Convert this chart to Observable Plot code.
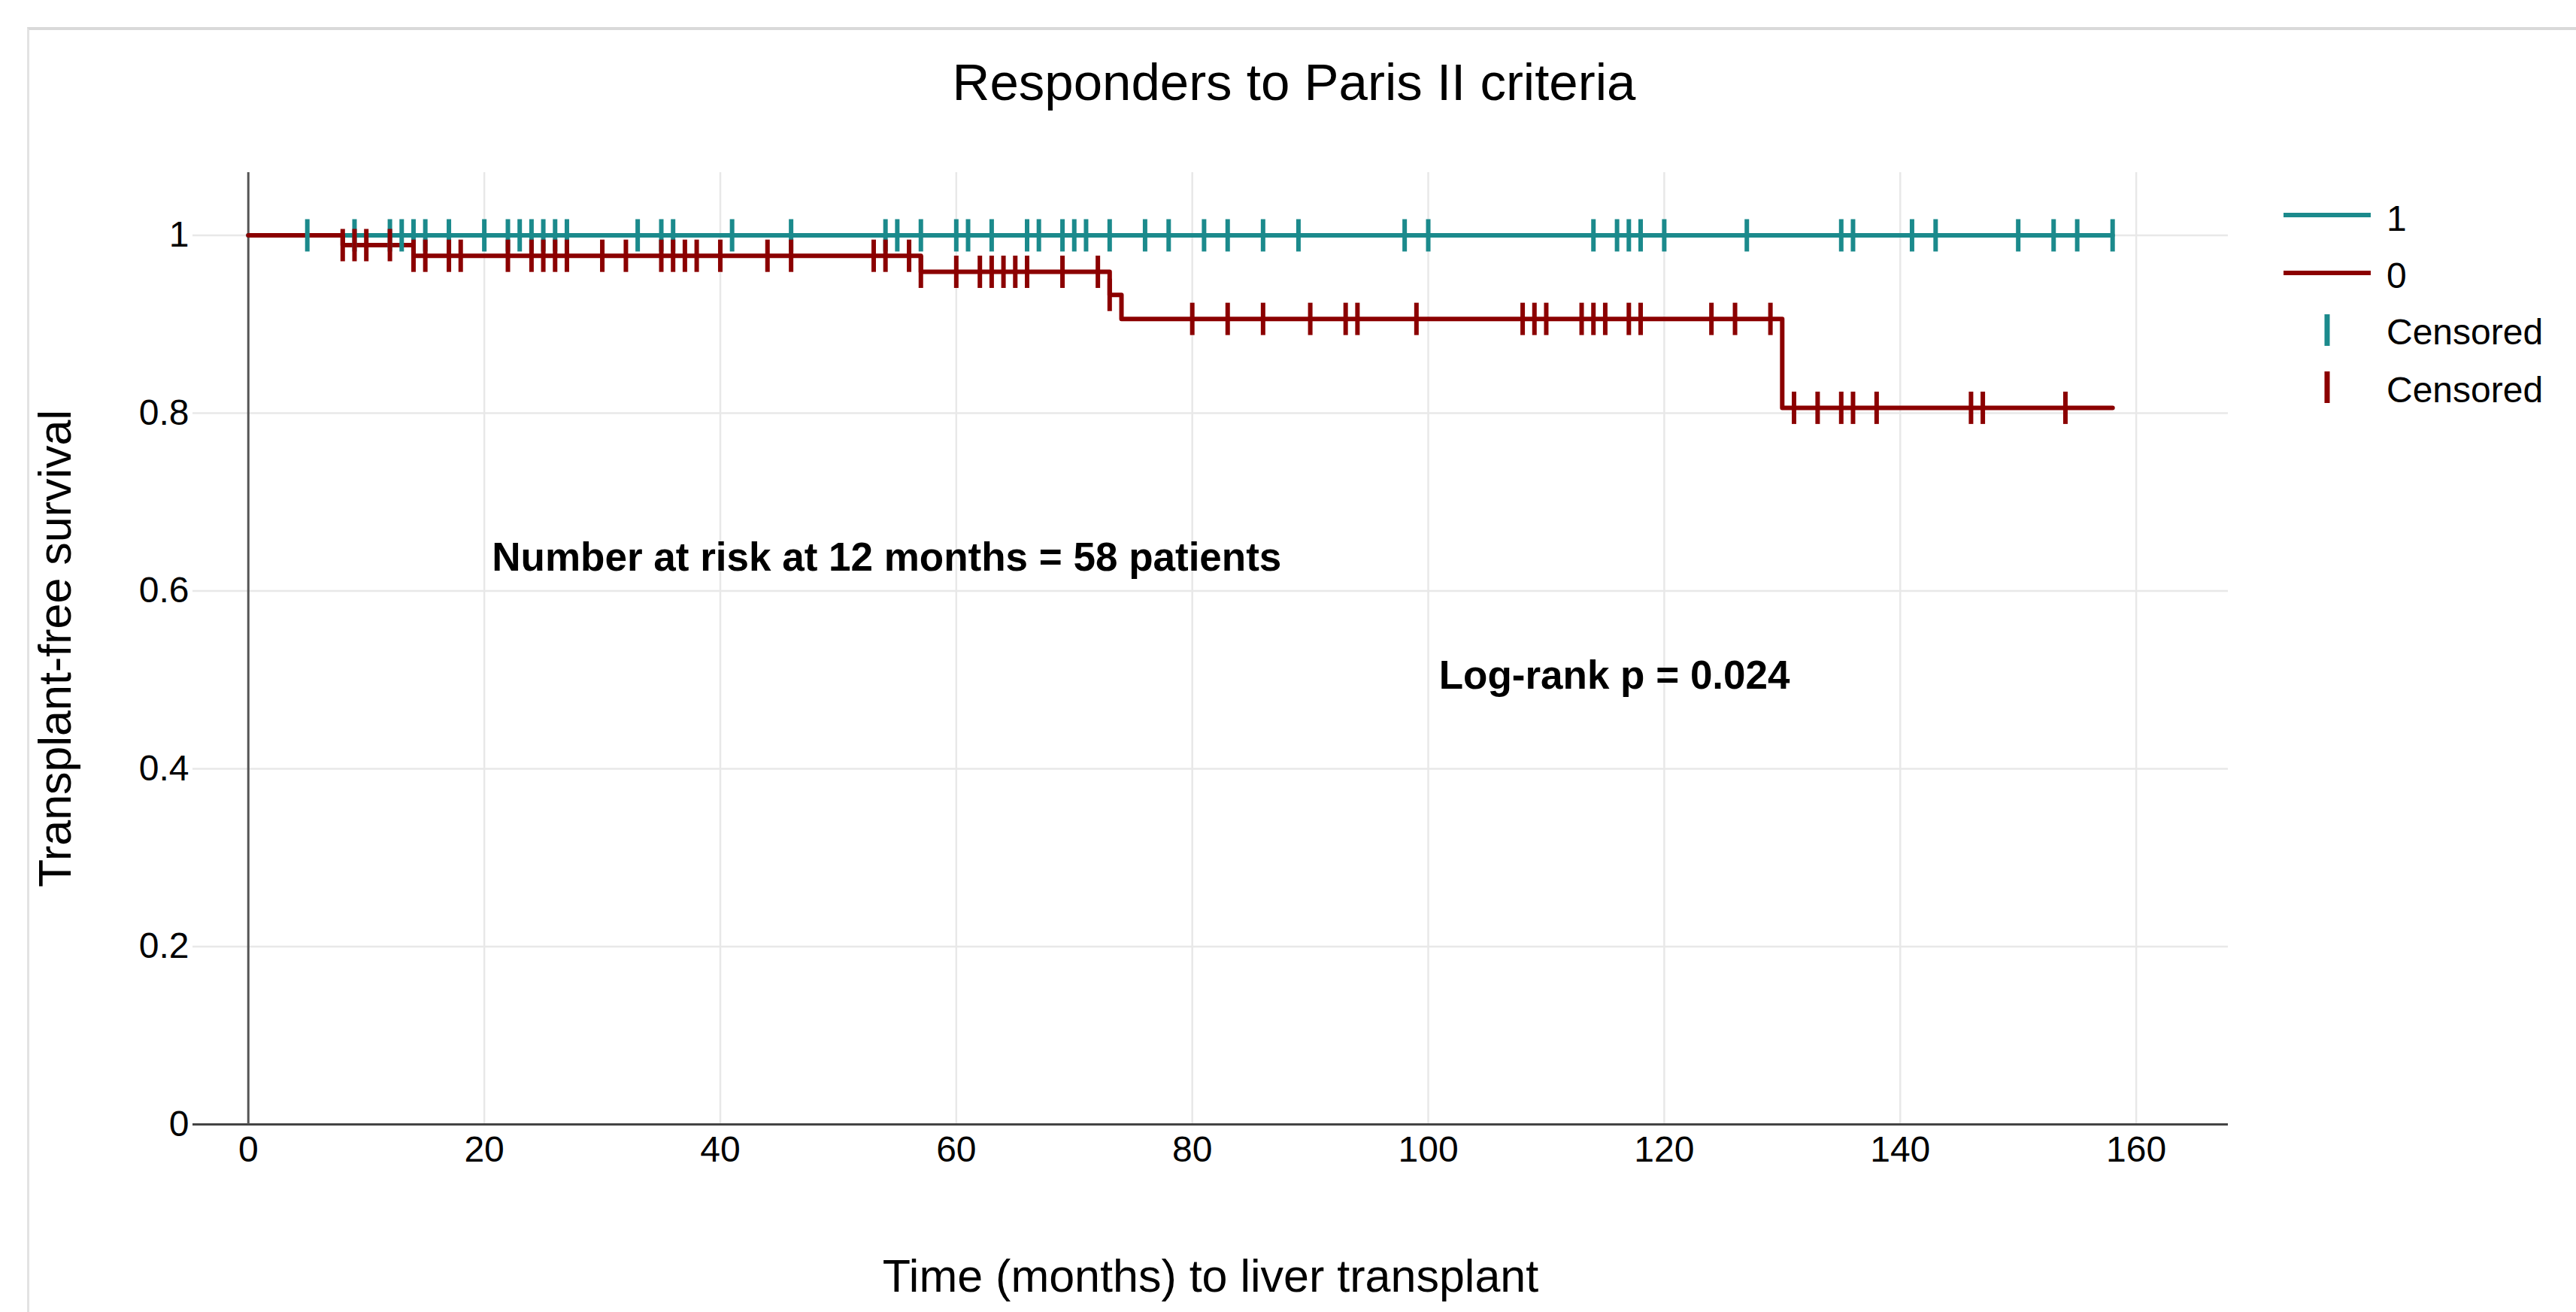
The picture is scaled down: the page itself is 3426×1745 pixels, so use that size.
<!DOCTYPE html>
<html>
<head>
<meta charset="utf-8">
<script src="https://cdn.jsdelivr.net/npm/d3@7"></script>
<script src="https://cdn.jsdelivr.net/npm/@observablehq/plot@0.6"></script>
<style>
  html, body { margin: 0; padding: 0; background: #ffffff; }
  #wrap { position: relative; width: 3426px; height: 1745px; overflow: hidden;
          font-family: "Liberation Sans", Arial, Helvetica, sans-serif; background: #fff; }
  #frame { position: absolute; left: 36px; top: 36px; right: -10px; bottom: -10px;
           border-top: 4px solid #d9d9d9; border-left: 3px solid #e3e3e3; }
  #chart, #overlay { position: absolute; left: 0; top: 0; }
</style>
</head>
<body>
<div id="wrap"><div id="frame"></div><div id="chart"></div></div>
<script>
// ---------------- data ----------------
const chartTitle = "Responders to Paris II criteria";
const xAxisTitle = "Time (months) to liver transplant";
const yAxisTitle = "Transplant-free survival";

const groupNames = ["1", "0"];
const censoredLabel = "Censored";

// group "1" (responders): no events, survival stays at 1
const eventTimes1 = [];
const survival1 = [];
const censorTimes1 = [5, 9, 12, 13, 14, 15, 17, 20, 22, 23, 24, 25, 26, 27, 33, 35, 36, 41,
  46, 54, 55, 57, 60, 61, 63, 66, 67, 69, 70, 71, 73, 76, 78, 81, 83, 86, 89, 98, 100,
  114, 116, 117, 118, 120, 127, 135, 136, 141, 143, 150, 153, 155, 158];
const lastTime1 = 158;

// group "0" (non-responders)
const eventTimes0 = [8, 14, 57, 73, 74, 130];
const survival0 = [0.989, 0.977, 0.959, 0.933, 0.906, 0.806];
const censorTimes0 = [8, 9, 10, 12, 14, 15, 17, 18, 22, 24, 25, 26, 27, 30, 32, 35, 36, 37,
  38, 40, 44, 46, 53, 54, 56, 57, 60, 62, 63, 64, 65, 66, 69, 72, 73, 80, 83, 86, 90, 93,
  94, 99, 108, 109, 110, 113, 114, 115, 117, 118, 124, 126, 129, 131, 133, 135, 136, 138,
  146, 147, 154];
const lastTime0 = 158;

const xTicks = [0, 20, 40, 60, 80, 100, 120, 140, 160];
const xTickLabels = ["0", "20", "40", "60", "80", "100", "120", "140", "160"];
const yTicks = [0, 0.2, 0.4, 0.6, 0.8, 1];
const yTickLabels = ["0", "0.2", "0.4", "0.6", "0.8", "1"];

const annotationTexts = ["Number at risk at 12 months = 58 patients", "Log-rank p = 0.024"];
const annotationX = [20.65, 100.9];
const annotationY = [0.623, 0.49];

// ---------------- styling ----------------
const TEAL = "#1b8a8c";
const RED = "#8b0000";
const FONT = "'Liberation Sans', Arial, Helvetica, sans-serif";
const W = 3426, H = 1745;

// ---------------- derived tables ----------------
function survAt(events, surv, t) {
  let s = 1;
  for (let i = 0; i < events.length; i++) if (events[i] <= t) s = surv[i];
  return s;
}
function curveRows(events, surv, last) {
  const rows = [{t: 0, s: 1}];
  events.forEach((t, i) => rows.push({t, s: surv[i]}));
  rows.push({t: last, s: survAt(events, surv, last)});
  return rows;
}
const curve1 = curveRows(eventTimes1, survival1, lastTime1);
const curve0 = curveRows(eventTimes0, survival0, lastTime0);
const cens1 = censorTimes1.map(t => ({t, s: survAt(eventTimes1, survival1, t)}));
const cens0 = censorTimes0.map(t => ({t, s: survAt(eventTimes0, survival0, t)}));
const annotations = annotationTexts.map((text, i) => ({text, x: annotationX[i], y: annotationY[i]}));

const tickSymbol = {
  draw(ctx) { ctx.moveTo(0, -21.5); ctx.lineTo(0, 21.5); }
};

const plot = Plot.plot({
  width: W,
  height: H,
  marginLeft: 256,
  marginRight: 463,
  marginTop: 229,
  marginBottom: 250,
  x: {domain: [-4.7, 167.8]},
  y: {domain: [0, 1.0706]},
  style: {fontFamily: FONT, background: "transparent", color: "#000"},
  marks: [
    Plot.gridX(xTicks.filter(d => d !== 0), {stroke: "#e8e8e8", strokeOpacity: 1, strokeWidth: 2.5}),
    Plot.gridY(yTicks.filter(d => d !== 0), {stroke: "#e8e8e8", strokeOpacity: 1, strokeWidth: 2.5}),
    Plot.ruleY([0], {stroke: "#444", strokeWidth: 3}),
    Plot.ruleX([0], {stroke: "#555", strokeWidth: 3}),
    Plot.axisX(xTicks, {tickSize: 0, tickPadding: 15, fontSize: 48, label: null,
      tickFormat: d => xTickLabels[xTicks.indexOf(d)]}),
    Plot.axisY(yTicks, {tickSize: 0, tickPadding: 5, fontSize: 48, label: null,
      tickFormat: d => yTickLabels[yTicks.indexOf(d)]}),
    Plot.line(curve1, {x: "t", y: "s", curve: "step-after", stroke: TEAL, strokeWidth: 6}),
    Plot.line(curve0, {x: "t", y: "s", curve: "step-after", stroke: RED, strokeWidth: 6}),
    Plot.dot(cens1, {x: "t", y: "s", symbol: tickSymbol, stroke: TEAL, fill: "none", strokeWidth: 6}),
    Plot.dot(cens0, {x: "t", y: "s", symbol: tickSymbol, stroke: RED, fill: "none", strokeWidth: 6}),
    Plot.text(annotations, {x: "x", y: "y", text: "text", textAnchor: "start", lineAnchor: "bottom",
      fontSize: 53, fontWeight: "bold", fill: "#000"}),
    Plot.text([xAxisTitle], {text: d => d, frameAnchor: "bottom", dy: 222, lineAnchor: "bottom",
      textAnchor: "middle", fontSize: 61, fill: "#000"}),
    Plot.text([yAxisTitle], {text: d => d, frameAnchor: "left", dx: -163, rotate: -90,
      textAnchor: "middle", lineAnchor: "bottom", fontSize: 61, fill: "#000"})
  ]
});
document.getElementById("chart").appendChild(plot);

// ---------------- title + legend overlay ----------------
const ov = d3.select("#wrap").append("svg").attr("id", "overlay")
  .attr("width", W).attr("height", H)
  .style("pointer-events", "none")
  .style("font-family", FONT);

ov.append("text").attr("x", 1721).attr("y", 133).attr("text-anchor", "middle")
  .attr("font-size", 69).attr("fill", "#000").text(chartTitle);

const legendItems = [
  {kind: "line", color: TEAL, label: groupNames[0], cy: 286, base: 307},
  {kind: "line", color: RED, label: groupNames[1], cy: 363, base: 383},
  {kind: "tick", color: TEAL, label: censoredLabel, cy: 439, base: 458},
  {kind: "tick", color: RED, label: censoredLabel, cy: 515, base: 535}
];
legendItems.forEach(it => {
  if (it.kind === "line") {
    ov.append("line").attr("x1", 3037).attr("x2", 3153).attr("y1", it.cy).attr("y2", it.cy)
      .attr("stroke", it.color).attr("stroke-width", 6);
  } else {
    ov.append("line").attr("x1", 3095).attr("x2", 3095).attr("y1", it.cy - 21).attr("y2", it.cy + 21)
      .attr("stroke", it.color).attr("stroke-width", 7);
  }
  ov.append("text").attr("x", 3174).attr("y", it.base).attr("font-size", 48).attr("fill", "#000")
    .text(it.label);
});
</script>
</body>
</html>
